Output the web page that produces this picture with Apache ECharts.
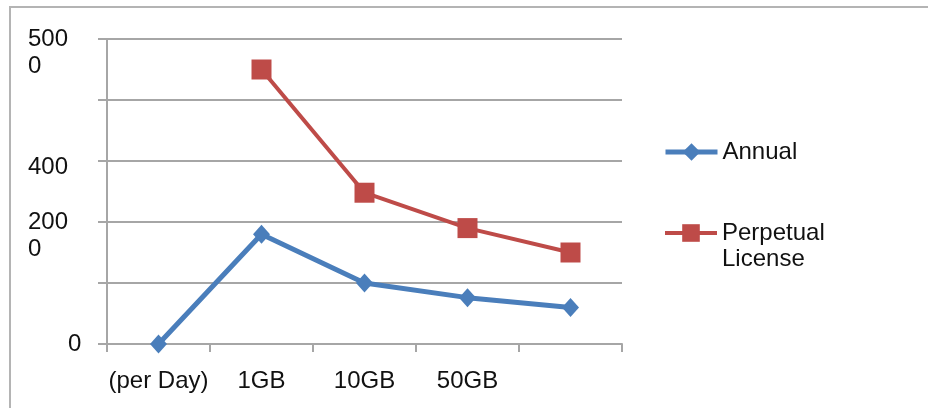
<!DOCTYPE html>
<html>
<head>
<meta charset="utf-8">
<script src="https://cdn.jsdelivr.net/npm/echarts@6/dist/echarts.min.js"></script>
<style>
  html, body { margin: 0; padding: 0; background: #fff; }
  #chart { width: 928px; height: 408px; }
</style>
</head>
<body>
<div id="chart"></div>
<script>
// Price per day by data volume
const categories = ['(per Day)', '1GB', '10GB', '50GB', ''];
const annual = [0, 1800, 1000, 760, 600];
const perpetual = [null, 4500, 2480, 1900, 1500];
const yTicks = [0, 1000, 2000, 3000, 4000, 5000];
const yTickLabels = ['0', '', '200\n0', '400', '', '500\n0'];

const FONT = '"Liberation Sans", Arial, sans-serif';
const BLUE = '#4a7ebb';
const RED = '#be4b48';
const GRID = '#a6a6a6';

function yLabel(value) {
  const i = yTicks.indexOf(value);
  const t = i < 0 ? '' : yTickLabels[i];
  if (!t) return '';
  if (value === 0) return '{z|' + t + '}';
  if (t.indexOf('\n') >= 0) {
    // keep the first line level with the gridline
    return '{n|}\n' + t.split('\n').map(s => '{n|' + s + '}').join('\n');
  }
  return '{s|' + t + '}';
}

const legendText = { fontFamily: FONT, fontSize: 24, color: '#111', lineHeight: 26 };

const chart = echarts.init(document.getElementById('chart'), null, { renderer: 'canvas' });
chart.setOption({
  animation: false,
  backgroundColor: '#fff',
  textStyle: { fontFamily: FONT },
  graphic: [{
    type: 'rect',
    shape: { x: 10, y: 7, width: 940, height: 440 },
    style: { fill: 'none', stroke: '#b4b4b4', lineWidth: 2 },
    silent: true,
    z: -1
  }],
  grid: { left: 107, top: 38, width: 515, height: 306, containLabel: false },
  legend: [{
    data: ['Annual'],
    left: 658, top: 134,
    orient: 'vertical',
    itemWidth: 52, itemHeight: 22,
    lineStyle: { width: 5 },
    textStyle: legendText
  }, {
    data: ['Perpetual License'],
    left: 658, top: 189,
    orient: 'vertical',
    itemWidth: 52, itemHeight: 22,
    lineStyle: { width: 4 },
    formatter: name => '\n' + name.replace(' ', '\n'),
    textStyle: legendText
  }],
  xAxis: {
    type: 'category',
    data: categories,
    boundaryGap: true,
    axisLine: { lineStyle: { color: GRID, width: 2 } },
    axisTick: { show: true, length: 8, lineStyle: { color: GRID, width: 2 } },
    axisLabel: { fontFamily: FONT, fontSize: 24, color: '#111', margin: 25, lineHeight: 24, interval: 0 },
    splitLine: { show: false }
  },
  yAxis: {
    type: 'value',
    min: 0, max: 5000, interval: 1000,
    axisLine: { show: true, lineStyle: { color: GRID, width: 2 } },
    axisTick: { show: true, length: 9, lineStyle: { color: GRID, width: 2 } },
    splitLine: { show: true, lineStyle: { color: GRID, width: 2 } },
    axisLabel: {
      margin: 79,
      align: 'left',
      formatter: yLabel,
      rich: {
        n: { fontFamily: FONT, fontSize: 24, color: '#111', lineHeight: 27 },
        s: { fontFamily: FONT, fontSize: 24, color: '#111', lineHeight: 24, padding: [12, 0, 0, 0] },
        z: { fontFamily: FONT, fontSize: 24, color: '#111', lineHeight: 24, padding: [0, 0, 0, 40] }
      }
    }
  },
  series: [{
    name: 'Annual',
    type: 'line',
    data: annual,
    symbol: 'diamond',
    symbolSize: [17, 19],
    color: BLUE,
    lineStyle: { color: BLUE, width: 5 },
    itemStyle: { color: BLUE }
  }, {
    name: 'Perpetual License',
    type: 'line',
    data: perpetual,
    symbol: 'rect',
    symbolSize: 20,
    color: RED,
    lineStyle: { color: RED, width: 4 },
    itemStyle: { color: RED }
  }]
});
</script>
</body>
</html>
